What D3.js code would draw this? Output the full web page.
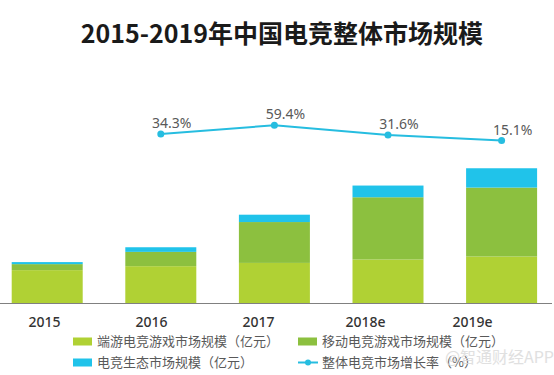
<!DOCTYPE html>
<html><head><meta charset="utf-8">
<script src="https://cdn.jsdelivr.net/npm/d3@7/dist/d3.min.js"></script>
<style>
html,body{margin:0;padding:0;background:#fff;}
svg{display:block;font-family:"Noto Sans CJK SC","Noto Sans",sans-serif;}
</style></head>
<body><svg id="c" width="554" height="375"></svg>
<script>
const years = ["2015","2016","2017","2018e","2019e"];
const pcEsports = [245, 274, 298, 323, 345];      // 端游电竞游戏市场规模（亿元）
const mobileEsports = [44, 105, 300, 457, 506];   // 移动电竞游戏市场规模（亿元）
const ecosystem = [15, 34, 54, 86, 142];          // 电竞生态市场规模（亿元）
const growthYears = ["2016","2017","2018e","2019e"];
const growthRate = [34.3, 59.4, 31.6, 15.1];      // 整体电竞市场增长率（%）
const seriesNames = ["端游电竞游戏市场规模（亿元）","移动电竞游戏市场规模（亿元）","电竞生态市场规模（亿元）","整体电竞市场增长率（%）"];
const title = "2015-2019年中国电竞整体市场规模";
const watermark = "@智通财经APP";

const colors = ["#b0d134","#8cc03f","#20c3ea"];
const lineColor = "#26bde0";

const svg = d3.select("#c");

svg.append("text").attr("x",282).attr("y",43).attr("text-anchor","middle")
  .attr("font-size",25).attr("font-weight",700).attr("fill","#1a1a1a").text(title);

const x = d3.scaleBand().domain(years).range([-9.6,558.4]).paddingInner(0.375).paddingOuter(0.1875);
const y = d3.scaleLinear().domain([0,1000]).range([303.5,167.3]);
const yr = d3.scaleLinear().domain([0,100]).range([145.8,111.3]);
const xl = d3.scalePoint().domain(years).range([44,472]);

const table = years.map((yv,i)=>({year:yv, pc:pcEsports[i], mobile:mobileEsports[i], eco:ecosystem[i]}));
const stack = d3.stack().keys(["pc","mobile","eco"])(table);

svg.append("g").selectAll("g").data(stack).join("g")
  .attr("fill",(d,i)=>colors[i])
  .selectAll("rect").data(d=>d).join("rect")
  .attr("x",d=>x(d.data.year)).attr("width",x.bandwidth())
  .attr("y",d=>y(d[1])).attr("height",d=>y(d[0])-y(d[1]));

// baseline axis
svg.append("line").attr("x1",0).attr("x2",552).attr("y1",y(0)).attr("y2",y(0))
  .attr("stroke","#808080").attr("stroke-width",1.2);

// x labels
const xAxis = svg.append("g").attr("transform",`translate(0,${y(0)})`)
  .call(d3.axisBottom(xl).tickSize(0).tickPadding(14));
xAxis.select(".domain").remove();
xAxis.selectAll("text").attr("font-size",14).attr("fill","#333")
  .attr("font-family","'Noto Sans',sans-serif").attr("font-weight",500);

// growth line
const pts = growthYears.map((yv,i)=>({year:yv,v:growthRate[i]}));
const line = d3.line().x(d=>x(d.year)+x.bandwidth()/2).y(d=>yr(d.v));
svg.append("path").datum(pts).attr("d",line).attr("fill","none")
  .attr("stroke",lineColor).attr("stroke-width",2);
svg.append("g").selectAll("circle").data(pts).join("circle")
  .attr("cx",d=>x(d.year)+x.bandwidth()/2).attr("cy",d=>yr(d.v)).attr("r",3.5).attr("fill",lineColor);
svg.append("g").selectAll("text").data(pts).join("text")
  .attr("x",d=>x(d.year)+x.bandwidth()/2+11).attr("y",d=>yr(d.v)-6)
  .attr("text-anchor","middle").attr("font-size",14).attr("fill","#595959")
  .attr("font-family","'Noto Sans',sans-serif")
  .text(d=>d.v.toFixed(1)+"%");

// legend
const legend = [
  {x:73,y:341.5,type:"rect",c:colors[0],t:seriesNames[0]},
  {x:298,y:341.5,type:"rect",c:colors[1],t:seriesNames[1]},
  {x:73,y:362.5,type:"rect",c:colors[2],t:seriesNames[2]},
  {x:298,y:362.5,type:"line",c:lineColor,t:seriesNames[3]}
];
const lg = svg.append("g").selectAll("g").data(legend).join("g")
  .attr("transform",d=>`translate(${d.x},${d.y})`);
lg.filter(d=>d.type==="rect").append("rect").attr("x",0).attr("y",-4).attr("width",19).attr("height",8).attr("fill",d=>d.c);
lg.filter(d=>d.type==="line").append("line").attr("x1",0).attr("x2",20).attr("y1",0).attr("y2",0).attr("stroke",d=>d.c).attr("stroke-width",2);
lg.filter(d=>d.type==="line").append("circle").attr("cx",10).attr("cy",0).attr("r",3).attr("fill",d=>d.c);
lg.append("text").attr("x",24).attr("y",0).attr("dy","0.35em").attr("font-size",13).attr("fill","#595959").text(d=>d.t);

// watermark
svg.append("text").attr("x",554).attr("y",363).attr("text-anchor","end")
  .attr("font-size",16).attr("fill","#d9d9d9").attr("opacity",0.8).text(watermark);
</script></body></html>
